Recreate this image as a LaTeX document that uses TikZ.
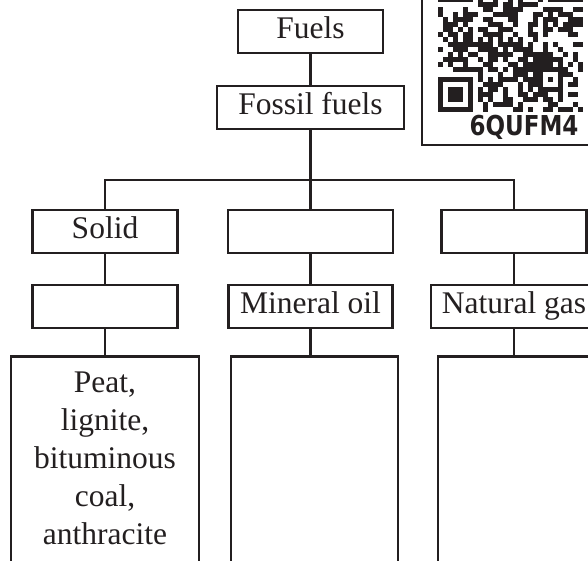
\documentclass[tikz,border=0pt]{standalone}
\usepackage{graphicx}
\usepackage{fontspec}
\setmainfont{Liberation Serif}
\newfontfamily\qrfont{DejaVu Sans}
\usetikzlibrary{positioning}
\definecolor{ink}{RGB}{35,31,32}
\tikzset{
  boxnd/.style={draw=ink, text=ink, line width=2.8pt, inner sep=0pt,
    minimum height=43pt, text height=22pt, text depth=8pt,
    font=\fontsize{31.5}{38}\selectfont},
  tallbox/.style={draw=ink, line width=2.8pt, inner sep=0pt,
    minimum height=260pt, anchor=north},
  kindtxt/.style={text=ink, align=center, inner sep=0pt, anchor=north,
    font=\fontsize{31.5}{38}\selectfont},
  link/.style={draw=ink, line width=2.8pt},
}
\newcommand{\qrfinder}[1]{%
  \fill[ink] #1 rectangle ++(35,35);
  \fill[white] #1 ++(5,5) rectangle ++(25,25);
  \fill[ink] #1 ++(10,10) rectangle ++(15,15);
}

\begin{document}
\begin{tikzpicture}[x=1pt,y=-1pt]
    \useasboundingbox (0,0) rectangle (588,561);
    \clip (0,0) rectangle (588,561);
    % QR tag
    \draw[ink, line width=2.8pt] (422,-10) |- (600,145);
    \pgfmathsetseed{2718}
    \foreach \c in {0,...,28} {
      \foreach \r in {0,...,28} {
        \pgfmathtruncatemacro{\skip}{((\c<8)&&(\r<8)) || ((\c<8)&&(\r>20))
          || ((\c>20)&&(\r<8)) || ((\c>19)&&(\c<25)&&(\r>19)&&(\r<25))}
        \ifnum\skip=0
          \pgfmathtruncatemacro{\on}{rnd<0.5}
          \ifnum\on=1 \fill[ink] (438+5*\c,-33+5*\r) rectangle ++(5,5); \fi
        \fi
      }
    }
    \qrfinder{(438,-33)}
    \qrfinder{(548,-33)}
    \qrfinder{(438,77)}
    \fill[ink] (538,67) rectangle ++(25,25);
    \fill[white] (543,72) rectangle ++(15,15);
    \fill[ink] (548,77) rectangle ++(5,5);
    \node[text=ink, inner sep=0pt,
      font=\qrfont\bfseries\fontsize{27.4}{30}\selectfont] (qrid) at (524,127)
      {\scalebox{0.84}[1]{6QUFM4}};
    % top of the tree
    \node[boxnd, minimum width=145pt] (fuels) at (310.5,31.5) {Fuels};
    \node[boxnd, minimum width=187pt] (fossil) at (310.5,107.5) {Fossil fuels};
    \coordinate (bus) at (310.5,180);
    % states
    \node[boxnd, minimum width=145pt] (solid) at (105,231.5) {Solid};
    \node[boxnd, minimum width=165pt] (liquid) at (310.5,231.5) {};
    \node[boxnd, minimum width=145pt] (gas) at (514,231.5) {};
    % kinds
    \node[boxnd, minimum width=145pt] (coal) at (105,306.5) {};
    \node[boxnd, minimum width=164pt] (mineral) at (310.5,306.5) {Mineral oil};
    \node[boxnd, minimum width=166pt] (natgas) at (514,306.5) {Natural gas};
    % lists
    \node[tallbox, minimum width=188pt] (coallist) at (105,355) {};
    \node[tallbox, minimum width=167pt] (oillist) at (314.5,355) {};
    \node[tallbox, minimum width=152pt] (gaslist) at (514,355) {};
    \node[kindtxt] (coaltypes) at (105,372) {Peat,\\lignite,\\bituminous\\coal,\\anthracite};
    % connectors
    \draw[link] (fuels) -- (fossil);
    \draw[link] (fossil) -- (bus);
    \draw[link] (solid.north) |- (bus) -| (gas.north);
    \draw[link] (bus) -- (liquid);
    \draw[link] (solid) -- (coal);
    \draw[link] (coal) -- (coallist);
    \draw[link] (liquid) -- (mineral);
    \draw[link] (mineral.south) -- (mineral.south |- oillist.north);
    \draw[link] (gas) -- (natgas);
    \draw[link] (natgas) -- (gaslist);
  \end{tikzpicture}
\end{document}
